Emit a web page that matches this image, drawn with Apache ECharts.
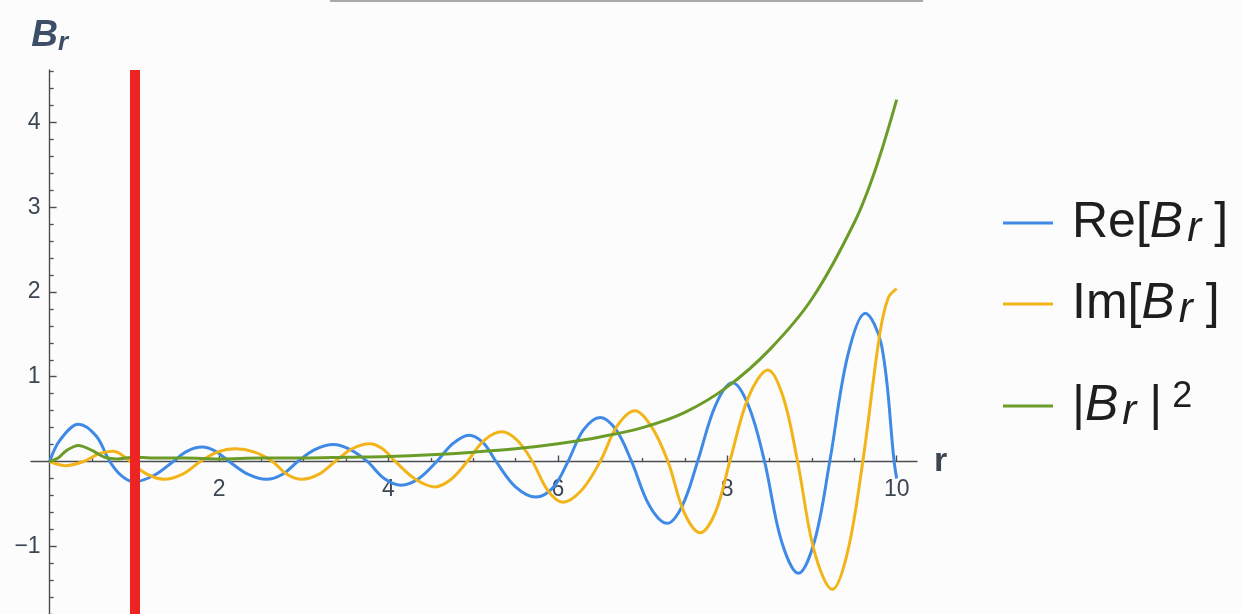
<!DOCTYPE html>
<html>
<head>
<meta charset="utf-8">
<title>B_r</title>
<script src="https://cdn.jsdelivr.net/npm/echarts@6/dist/echarts.min.js"></script>
<style>
  html, body { margin: 0; padding: 0; background: #fcfcfc; }
  #chart { width: 1241px; height: 614px; }
</style>
</head>
<body>
<div id="chart"></div>
<script>
// Real part of B_r: radius and value pairs (extrema, zero crossings and shoulders)
const reR = [0, 0.12, 0.34, 0.55, 0.71, 0.85, 1.0, 1.24, 1.46, 1.62, 1.8, 1.96, 2.12, 2.34, 2.56, 2.75, 2.93, 3.13, 3.35, 3.55,
  3.75, 3.95, 4.15, 4.36, 4.57, 4.76, 4.95, 5.12, 5.27, 5.5, 5.74, 5.95, 6.12, 6.3, 6.5, 6.69, 6.87, 7.08, 7.29, 7.47,
  7.65, 7.86, 8.06, 8.25, 8.44, 8.64, 8.84, 9.03, 9.21, 9.42, 9.63, 9.82, 9.97, 10.0];
const reV = [0, 0.25, 0.44, 0.3, 0, -0.17, -0.24, -0.16, 0, 0.12, 0.17, 0.12, 0, -0.15, -0.21, -0.15, 0, 0.14, 0.2, 0.14,
  0, -0.2, -0.28, -0.2, 0, 0.21, 0.31, 0.22, 0, -0.3, -0.42, -0.3, 0, 0.37, 0.52, 0.37, 0, -0.52, -0.73, -0.52,
  0, 0.66, 0.93, 0.66, 0, -0.94, -1.32, -0.94, 0, 1.24, 1.75, 1.38, 0, -0.2];

// Imaginary part of B_r
const imR = [0, 0.18, 0.4, 0.58, 0.75, 0.85, 0.95, 1.15, 1.35, 1.57, 1.78, 1.98, 2.19, 2.42, 2.63, 2.8, 2.98, 3.18, 3.37, 3.57,
  3.78, 3.93, 4.08, 4.32, 4.55, 4.74, 4.93, 5.13, 5.34, 5.52, 5.7, 5.88, 6.06, 6.28, 6.5, 6.7, 6.91, 7.1, 7.3, 7.49,
  7.68, 7.86, 8.03, 8.25, 8.48, 8.66, 8.83, 9.03, 9.24, 9.42, 9.6, 9.8, 9.9, 10.0];
const imV = [0, -0.05, 0, 0.09, 0.12, 0.08, 0, -0.15, -0.21, -0.15, 0, 0.11, 0.15, 0.11, 0, -0.15, -0.21, -0.15, 0, 0.15,
  0.21, 0.15, 0, -0.21, -0.3, -0.21, 0, 0.25, 0.35, 0.25, 0, -0.34, -0.48, -0.34, 0, 0.42, 0.6, 0.42, 0, -0.6,
  -0.84, -0.6, 0, 0.76, 1.08, 0.76, 0, -1.07, -1.51, -1.07, 0, 1.5, 1.93, 2.04];

// Squared modulus |B_r|^2
const absR = [0, 0.1, 0.2, 0.34, 0.5, 0.65, 0.8, 1.0, 1.3, 1.6, 2.0, 2.5, 3.0, 3.5, 4.0, 4.5, 5.0, 5.5, 6.0, 6.5,
  7.0, 7.5, 8.0, 8.5, 9.0, 9.5, 9.75, 10.0];
const absV = [0, 0.04, 0.13, 0.19, 0.13, 0.05, 0.03, 0.05, 0.04, 0.04, 0.03, 0.04, 0.04, 0.05, 0.06, 0.08, 0.11, 0.15, 0.21, 0.29,
  0.4, 0.58, 0.88, 1.32, 1.92, 2.82, 3.45, 4.27];

// Marked radius (vertical red line)
const markedR = [1];

// Tick labels
const xLabelTicks = [2, 4, 6, 8, 10];
const yLabelTicks = [-1, 1, 2, 3, 4];

const seriesNames = ['Re[B_r]', 'Im[B_r]', '|B_r|^2'];
const colors = ['#3f8ae6', '#f2b418', '#6c9c28'];

// minor tick positions (axis decoration)
const xMinorTicks = [];
for (let k = 1; k <= 20; k++) { if (k % 4 !== 0) xMinorTicks.push(k / 2); }
const yMinorTicks = [];
for (let k = -9; k <= 23; k++) { if (k % 5 !== 0) yMinorTicks.push(+(k * 0.2).toFixed(1)); }
const yMajorTicks = [-1, 1, 2, 3, 4];

const zip = (a, b) => a.map((v, i) => [v, b[i]]);
const minusSign = v => String(v).replace('-', '\u2212');

const FONT = 'Liberation Sans';
const AXIS_COLOR = '#4a4d52';
const LABEL_COLOR = '#3b4652';
const TEXT_COLOR = '#1e1e1e';

// plotting window
const W = 1241, H = 614;
const GRID = { left: 31, right: 324, top: 70, bottom: 0 };
const X_MIN = -0.22, X_MAX = 10.24, Y_MIN = -1.8, Y_MAX = 4.62;

// axes cross at the origin: shift the bottom/left axes inward onto r = 0 and B_r = 0
const gridW = W - GRID.left - GRID.right;
const gridH = H - GRID.top - GRID.bottom;
const xAxisOffset = -gridH * (0 - Y_MIN) / (Y_MAX - Y_MIN);
const yAxisOffset = -gridW * (0 - X_MIN) / (X_MAX - X_MIN);

const legendText = {
  'Re[B_r]': '{g| }{n|Re[}{i|B}{s|r}{n|]}',
  'Im[B_r]': '{g| }{n|Im[}{i|B}{s|r}{n|]}',
  '|B_r|^2': '{g| }{n||}{i|B}{s|r}{n||}{p|2}'
};
const legendRich = {
  g: { width: 14, fontSize: 50, lineHeight: 54 },
  n: { fontFamily: FONT, fontSize: 50, lineHeight: 54, color: TEXT_COLOR },
  i: { fontFamily: FONT, fontSize: 50, fontStyle: 'italic', lineHeight: 54, color: TEXT_COLOR, padding: [0, 4, 0, 0] },
  s: { fontFamily: FONT, fontSize: 42, fontStyle: 'italic', lineHeight: 32, verticalAlign: 'bottom', color: TEXT_COLOR, padding: [0, 13, 0, 0] },
  p: { fontFamily: FONT, fontSize: 36, lineHeight: 30, verticalAlign: 'top', color: TEXT_COLOR, padding: [0, 0, 0, 10] }
};
// vertical centres of the three legend rows
const legendRowCenters = [220, 301, 401];
const legends = seriesNames.map((name, i) => ({
  data: [name],
  orient: 'vertical',
  left: 998,
  top: legendRowCenters[i] - 27,
  itemWidth: 50,
  itemHeight: 3,
  icon: 'rect',
  selectedMode: false,
  formatter: n => legendText[n],
  textStyle: { fontFamily: FONT, color: TEXT_COLOR, rich: legendRich }
}));

// Catmull-Rom-like smoothing through the sampled points
const SMOOTH = 0.35;

const chart = echarts.init(document.getElementById('chart'), null, { renderer: 'canvas' });

chart.setOption({
  animation: false,
  backgroundColor: '#fcfcfc',
  grid: { left: GRID.left, right: GRID.right, top: GRID.top, bottom: GRID.bottom, containLabel: false, outerBoundsMode: 'none' },
  legend: legends,
  xAxis: [
    {
      type: 'value', min: X_MIN, max: X_MAX, position: 'bottom', offset: xAxisOffset,
      axisLine: { onZero: false, lineStyle: { color: AXIS_COLOR, width: 1.4 } },
      axisTick: { show: true, inside: true, length: 6, customValues: xLabelTicks, lineStyle: { color: AXIS_COLOR, width: 1.4 } },
      axisLabel: { customValues: xLabelTicks, fontFamily: FONT, fontSize: 23, color: LABEL_COLOR, margin: 17 },
      splitLine: { show: false },
      name: 'r', nameLocation: 'end', nameGap: 17,
      nameTextStyle: { fontFamily: FONT, fontSize: 34, fontWeight: 'bold', color: LABEL_COLOR, padding: [11, 0, 0, 0] }
    },
    {
      type: 'value', min: X_MIN, max: X_MAX, position: 'bottom', offset: xAxisOffset,
      axisLine: { show: false, onZero: false },
      axisTick: { show: true, inside: true, length: 3.5, customValues: xMinorTicks, lineStyle: { color: AXIS_COLOR, width: 1.3 } },
      axisLabel: { show: false },
      splitLine: { show: false }
    }
  ],
  yAxis: [
    {
      type: 'value', min: Y_MIN, max: Y_MAX, position: 'left', offset: yAxisOffset,
      axisLine: { onZero: false, lineStyle: { color: AXIS_COLOR, width: 1.4 } },
      axisTick: { show: true, inside: true, length: 7, customValues: yMajorTicks, lineStyle: { color: AXIS_COLOR, width: 1.4 } },
      axisLabel: { customValues: yLabelTicks, formatter: minusSign, fontFamily: FONT, fontSize: 23, color: LABEL_COLOR, margin: 9 },
      splitLine: { show: false },
      name: '{b|B}{s|r}', nameLocation: 'end', nameGap: 14,
      nameTextStyle: {
        align: 'center',
        rich: {
          b: { fontFamily: FONT, fontSize: 37, fontWeight: 'bold', fontStyle: 'italic', color: '#3c4f66', lineHeight: 40 },
          s: { fontFamily: FONT, fontSize: 26, fontWeight: 'bold', fontStyle: 'italic', color: '#3c4f66', lineHeight: 22, verticalAlign: 'bottom' }
        }
      }
    },
    {
      type: 'value', min: Y_MIN, max: Y_MAX, position: 'left', offset: yAxisOffset,
      axisLine: { show: false, onZero: false },
      axisTick: { show: true, inside: true, length: 4, customValues: yMinorTicks, lineStyle: { color: AXIS_COLOR, width: 1.3 } },
      axisLabel: { show: false },
      splitLine: { show: false }
    }
  ],
  series: [
    {
      name: seriesNames[0], type: 'line', data: zip(reR, reV), smooth: SMOOTH, showSymbol: false,
      lineStyle: { color: colors[0], width: 3 }, itemStyle: { color: colors[0] }, z: 3
    },
    {
      name: seriesNames[1], type: 'line', data: zip(imR, imV), smooth: SMOOTH, showSymbol: false,
      lineStyle: { color: colors[1], width: 3 }, itemStyle: { color: colors[1] }, z: 3
    },
    {
      name: seriesNames[2], type: 'line', data: zip(absR, absV), smooth: SMOOTH, showSymbol: false,
      lineStyle: { color: colors[2], width: 3 }, itemStyle: { color: colors[2] }, z: 3
    },
    {
      name: 'marked', type: 'line', data: [], z: 5,
      markLine: {
        silent: true, symbol: 'none', animation: false,
        label: { show: false },
        lineStyle: { color: '#ee2424', width: 10, type: 'solid' },
        data: markedR.map(v => ({ xAxis: v }))
      }
    }
  ],
  graphic: [
    {
      type: 'line', shape: { x1: 330, y1: 1, x2: 923, y2: 1 },
      style: { stroke: '#a9a9a9', lineWidth: 2 }, silent: true
    }
  ]
});
</script>
</body>
</html>
